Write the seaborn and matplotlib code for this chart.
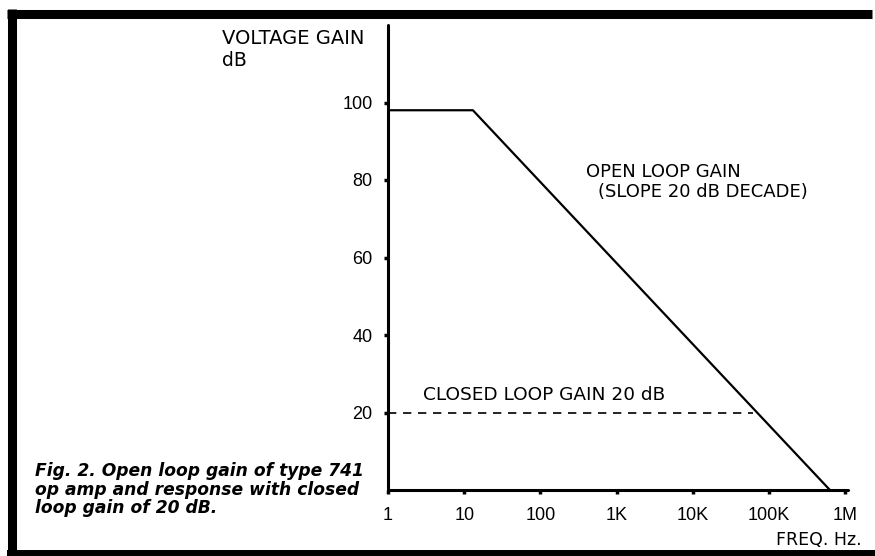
import pandas as pd
import matplotlib.pyplot as plt
import seaborn as sns
from matplotlib.lines import Line2D

# Values
open_freq = [1, 13, 630000]          # Hz
open_gain = [98, 98, 0]              # dB
closed_freq = [1, 62000]             # Hz
closed_gain = [20, 20]               # dB
x_ticks = [1, 10, 100, 1000, 10000, 100000, 1000000]
x_tick_labels = ['1', '10', '100', '1K', '10K', '100K', '1M']
y_ticks = [20, 40, 60, 80, 100]


def main():
    sns.set_theme(style='white')
    plt.rcParams['font.family'] = ['DejaVu Sans']
    plt.rcParams['text.color'] = 'black'
    plt.rcParams['xtick.color'] = 'black'
    plt.rcParams['ytick.color'] = 'black'

    fig = plt.figure(figsize=(8.75, 5.56), dpi=100)
    W, H = 875, 556
    ax = fig.add_axes([388 / W, 1 - 490 / H, (848 - 388) / W, (490 - 25) / H])

    ax.set_xscale('log')
    ax.set_xlim(1, 10 ** (460 / 76.2))
    ax.set_ylim(0, 120)

    df_open = pd.DataFrame({'freq': open_freq, 'gain': open_gain})
    df_closed = pd.DataFrame({'freq': closed_freq, 'gain': closed_gain})
    sns.lineplot(data=df_open, x='freq', y='gain', ax=ax, color='black',
                 linewidth=1.6, sort=False)
    sns.lineplot(data=df_closed, x='freq', y='gain', ax=ax, color='black',
                 linewidth=1.2, linestyle=(0, (5, 4)), sort=False)

    # axes styling
    for side in ['top', 'right']:
        ax.spines[side].set_visible(False)
    for side in ['left', 'bottom']:
        ax.spines[side].set_color('black')
        ax.spines[side].set_linewidth(2.2)
        ax.spines[side].set_capstyle('round')

    ax.set_xticks(x_ticks)
    ax.set_xticklabels(x_tick_labels)
    ax.minorticks_off()
    ax.set_yticks(y_ticks)
    ax.set_yticklabels([str(v) for v in y_ticks])
    ax.tick_params(axis='x', which='major', bottom=True, length=3, width=2.5,
                   color='black', labelcolor='black', pad=9, labelsize=12,
                   direction='out')
    ax.tick_params(axis='y', which='major', left=True, length=3, width=2.5,
                   color='black', labelcolor='black', pad=8, labelsize=12,
                   direction='out')
    for lab in ax.get_xticklabels() + ax.get_yticklabels():
        lab.set_family(['Liberation Sans'])
        lab.set_fontsize(13)
    ax.set_xlabel('')
    ax.set_ylabel('')
    ax.grid(False)

    # annotations inside the plot
    ax.text(400, 82, 'OPEN LOOP GAIN', fontsize=13, ha='left', va='center')
    ax.text(570, 77, '(SLOPE 20 dB DECADE)', fontsize=13, ha='left', va='center')
    ax.text(2.9, 24.5, 'CLOSED LOOP GAIN 20 dB', fontsize=13.3, ha='left', va='center')

    # labels outside the axes
    fig.text(222 / W, 1 - 39 / H, 'VOLTAGE GAIN', fontsize=14, ha='left', va='center')
    fig.text(222 / W, 1 - 60 / H, 'dB', fontsize=13.5, ha='left', va='center')
    fig.text(862 / W, 1 - 540 / H, 'FREQ. Hz.', fontsize=12.5, ha='right', va='center')
    fig.text(35 / W, 1 - 462 / H,
             'Fig. 2. Open loop gain of type 741\n'
             'op amp and response with closed\n'
             'loop gain of 20 dB.',
             fontsize=12.3, fontweight='bold', fontstyle='italic',
             ha='left', va='top', linespacing=1.05)

    # heavy frame round the figure (top, left, bottom)
    frame = dict(color='black', transform=fig.transFigure, solid_capstyle='butt')
    fig.add_artist(Line2D([7 / W, 872 / W], [1 - 13.5 / H, 1 - 13.5 / H],
                          linewidth=6.5, **frame))
    fig.add_artist(Line2D([11.5 / W, 11.5 / W], [1 - 9 / H, 1 - 556 / H],
                          linewidth=6.5, **frame))
    fig.add_artist(Line2D([7 / W, 875 / W], [1 - 553 / H, 1 - 553 / H],
                          linewidth=4.3, **frame))

    fig.savefig('out.png', dpi=100)
    plt.close(fig)


if __name__ == "__main__":
    main()
